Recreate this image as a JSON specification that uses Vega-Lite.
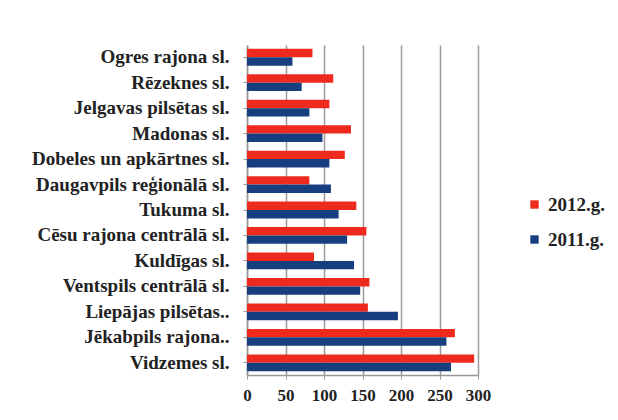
{
  "$schema": "https://vega.github.io/schema/vega-lite/v6.json",
  "width": 231,
  "height": 330,
  "autosize": {"type": "none"},
  "padding": {"left": 247, "top": 45, "right": 140, "bottom": 45},
  "background": "white",
  "config": {"view": {"stroke": null}, "font": "Liberation Serif"},
  "data": {
    "values": [
      {"name": "Ogres rajona sl.", "year": "2012.g.", "value": 85},
      {"name": "Ogres rajona sl.", "year": "2011.g.", "value": 59},
      {"name": "Rēzeknes sl.", "year": "2012.g.", "value": 112},
      {"name": "Rēzeknes sl.", "year": "2011.g.", "value": 71},
      {"name": "Jelgavas pilsētas sl.", "year": "2012.g.", "value": 107},
      {"name": "Jelgavas pilsētas sl.", "year": "2011.g.", "value": 81},
      {"name": "Madonas sl.", "year": "2012.g.", "value": 135},
      {"name": "Madonas sl.", "year": "2011.g.", "value": 98},
      {"name": "Dobeles un apkārtnes sl.", "year": "2012.g.", "value": 127},
      {"name": "Dobeles un apkārtnes sl.", "year": "2011.g.", "value": 107},
      {"name": "Daugavpils reģionālā sl.", "year": "2012.g.", "value": 81},
      {"name": "Daugavpils reģionālā sl.", "year": "2011.g.", "value": 109},
      {"name": "Tukuma sl.", "year": "2012.g.", "value": 142},
      {"name": "Tukuma sl.", "year": "2011.g.", "value": 119},
      {"name": "Cēsu rajona centrālā sl.", "year": "2012.g.", "value": 155},
      {"name": "Cēsu rajona centrālā sl.", "year": "2011.g.", "value": 130},
      {"name": "Kuldīgas sl.", "year": "2012.g.", "value": 87},
      {"name": "Kuldīgas sl.", "year": "2011.g.", "value": 139},
      {"name": "Ventspils centrālā sl.", "year": "2012.g.", "value": 159},
      {"name": "Ventspils centrālā sl.", "year": "2011.g.", "value": 147},
      {"name": "Liepājas pilsētas..", "year": "2012.g.", "value": 157},
      {"name": "Liepājas pilsētas..", "year": "2011.g.", "value": 196},
      {"name": "Jēkabpils rajona..", "year": "2012.g.", "value": 270},
      {"name": "Jēkabpils rajona..", "year": "2011.g.", "value": 259},
      {"name": "Vidzemes sl.", "year": "2012.g.", "value": 295},
      {"name": "Vidzemes sl.", "year": "2011.g.", "value": 265}
    ]
  },
  "mark": {"type": "bar"},
  "encoding": {
    "y": {
      "field": "name",
      "type": "nominal",
      "sort": null,
      "title": null,
      "scale": {"paddingInner": 0.34, "paddingOuter": 0.15},
      "axis": {
        "labelFont": "Liberation Serif",
        "labelFontWeight": "bold",
        "labelFontSize": 19,
        "labelLimit": 400,
        "labelColor": "#222222",
        "labelPadding": 14,
        "tickSize": 4,
        "tickColor": "#999999",
        "domainColor": "#999999",
        "domainWidth": 1.5
      }
    },
    "x": {
      "field": "value",
      "type": "quantitative",
      "title": null,
      "scale": {"domain": [0, 300], "nice": false},
      "axis": {
        "values": [0, 50, 100, 150, 200, 250, 300],
        "labelFont": "Liberation Serif",
        "labelFontWeight": "bold",
        "labelFontSize": 17,
        "labelOverlap": false,
        "labelFlush": false,
        "labelColor": "#222222",
        "labelPadding": 8,
        "tickSize": 4,
        "tickColor": "#999999",
        "domainColor": "#999999",
        "domainWidth": 1.5,
        "grid": true,
        "gridColor": "#9a9a9a",
        "gridWidth": 1.5
      }
    },
    "color": {
      "field": "year",
      "type": "nominal",
      "scale": {"domain": ["2012.g.", "2011.g."], "range": ["#ee2a1f", "#173f80"]},
      "legend": {
        "title": null,
        "orient": "none",
        "legendX": 278,
        "legendY": 150,
        "symbolType": "square",
        "symbolSize": 70,
        "symbolStrokeWidth": 0,
        "labelFont": "Liberation Serif",
        "labelFontWeight": "bold",
        "labelFontSize": 19,
        "labelColor": "#222222",
        "rowPadding": 15
      }
    },
    "yOffset": {
      "field": "year",
      "type": "nominal",
      "scale": {"domain": ["2012.g.", "2011.g."]}
    }
  }
}
